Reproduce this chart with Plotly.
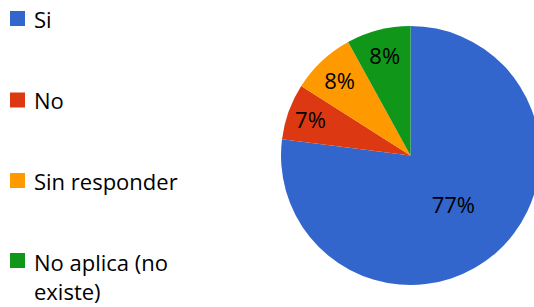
import plotly.graph_objects as go

labels = ["Si", "No", "Sin responder", "No aplica (no existe)"]
values = [77, 7, 8, 8]
colors = ["#3366CC", "#DC3912", "#FF9900", "#109618"]

W, H = 545, 307
FONT = "'Open Sans', Lato, sans-serif"
FS = 22

fig = go.Figure()
fig.add_trace(go.Pie(
    labels=labels,
    values=values,
    sort=False,
    direction="clockwise",
    rotation=0,
    marker=dict(colors=colors, line=dict(width=0)),
    textinfo="percent",
    textposition="inside",
    insidetextorientation="horizontal",
    textfont=dict(family=FONT, size=FS, color="black"),
    domain=dict(x=[281 / W, 540 / W], y=[22 / H, 281 / H]),
    showlegend=False,
    hoverinfo="label+percent",
))

# manual legend
row_y = [18.5, 100, 180.5, 260.5]
shapes = []
annotations = []
for lab, col, yc in zip(labels, colors, row_y):
    shapes.append(dict(type="rect", xref="paper", yref="paper",
                       x0=10 / W, x1=25 / W,
                       y0=1 - (yc + 7.5) / H, y1=1 - (yc - 7.5) / H,
                       fillcolor=col, line=dict(width=0)))
    if lab.startswith("No aplica"):
        text = "No aplica (no<br>existe)"
        annotations.append(dict(x=32 / W, y=1 - (yc - 15.5) / H, xref="paper", yref="paper",
                                xanchor="left", yanchor="top", text=text, showarrow=False,
                                align="left", font=dict(family=FONT, size=FS, color="black")))
    else:
        annotations.append(dict(x=32 / W, y=1 - yc / H, xref="paper", yref="paper",
                                xanchor="left", yanchor="middle", text=lab, showarrow=False,
                                align="left", font=dict(family=FONT, size=FS, color="black")))

fig.update_layout(
    width=W, height=H,
    margin=dict(l=0, r=0, t=0, b=0),
    paper_bgcolor="white", plot_bgcolor="white",
    shapes=shapes, annotations=annotations,
)

fig.write_html("out.html", config={"displayModeBar": False},
               post_script="document.body.style.margin='0';document.body.style.overflow='hidden';document.documentElement.style.overflow='hidden';")
